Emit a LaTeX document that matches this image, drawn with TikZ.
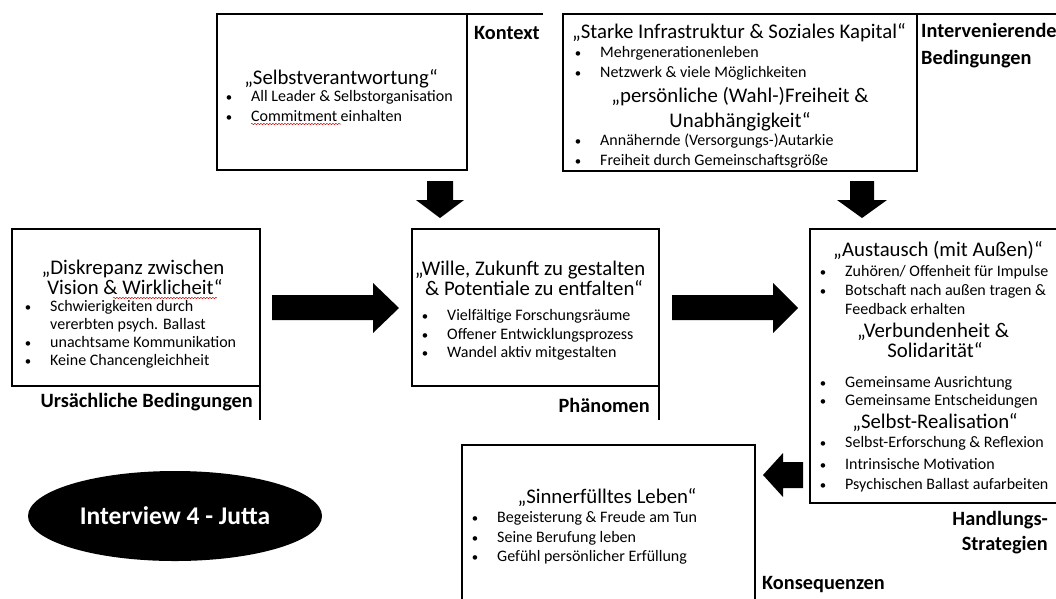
\documentclass[tikz,border=0pt]{standalone}
\usepackage{fontspec}
\setmainfont{Carlito}
\usetikzlibrary{shapes.geometric,decorations.pathmorphing}
\begin{document}
\begin{tikzpicture}[x=1pt,y=-1pt,
  box/.style={draw, line width=2.6pt, anchor=north west, inner sep=0pt, outer sep=0pt},
  ttl/.style={font=\fontsize{20.8}{23}\selectfont, inner sep=0pt, anchor=base},
  itm/.style={font=\fontsize{16}{19}\selectfont, inner sep=0pt, anchor=base west},
  lbl/.style={font=\fontsize{20.3}{24}\selectfont\bfseries, inner sep=0pt},
  frame/.style={line width=2.2pt},
  blk/.style={fill=black},
  squig/.style={red!80!black, line width=0.5pt, decorate, decoration={snake, amplitude=0.6pt, segment length=3pt}}]
\useasboundingbox (0,0) rectangle (1056,598);
\fill[white] (0,0) rectangle (1056,598);
\newcommand\bul[1]{\makebox[0pt][r]{\scalebox{0.8}{\textbullet}\hspace{19pt}}#1}

% ---------- Kontext ----------
\node[box, minimum width=250pt, minimum height=156pt] (ctx) at (217,14) {};
\draw[frame] (ctx.north east) -- (543,14);
\node[lbl, anchor=base west] (ctxl) at (474,39) {Kontext};
\node[ttl] (ctxt) at (341,84) {„Selbstverantwortung“};
\node[itm] (ctx1) at (251,101) {\bul{All Leader \& Selbstorganisation}};
\node[itm] (ctx2) at (251,121) {\bul{Commitment einhalten}};
\draw[squig] (251,124) -- (341,124);

% ---------- Intervenierende Bedingungen ----------
\node[box, minimum width=354pt, minimum height=157pt] (int) at (563,14) {};
\draw[frame] (int.north east) -- (1060,14);
\node[lbl, anchor=base west] (intl1) at (921,37) {Intervenierende};
\node[lbl, anchor=base west] (intl2) at (921,64) {Bedingungen};
\node[ttl] (intt1) at (739,38) {„Starke Infrastruktur \& Soziales Kapital“};
\node[itm] (int1) at (600,57) {\bul{Mehrgenerationenleben}};
\node[itm] (int2) at (600,77) {\bul{Netzwerk \& viele Möglichkeiten}};
\node[ttl] (intt2) at (740,102) {„persönliche (Wahl-)Freiheit \&};
\node[ttl] (intt3) at (740,127) {Unabhängigkeit“};
\node[itm] (int3) at (600,145) {\bul{Annähernde (Versorgungs-)Autarkie}};
\node[itm] (int4) at (600,165) {\bul{Freiheit durch Gemeinschaftsgröße}};

% ---------- Ursächliche Bedingungen ----------
\node[box, minimum width=248pt, minimum height=157pt] (urs) at (12,229) {};
\draw[frame] (urs.south east) -- (260,420);
\node[lbl, anchor=base east] (ursl) at (253,407) {Ursächliche Bedingungen};
\node[ttl] (urst1) at (133,274) {„Diskrepanz zwischen};
\node[ttl] (urst2) at (135,294) {Vision \& Wirklicheit“};
\draw[squig] (113,298) -- (217,298);
\node[itm] (urs1) at (50,311) {\bul{Schwierigkeiten durch}};
\node[itm] (urs1b) at (50,329) {vererbten psych. Ballast};
\node[itm] (urs2) at (50,347) {\bul{unachtsame Kommunikation}};
\node[itm] (urs3) at (50,365) {\bul{Keine Chancengleichheit}};

% ---------- Phänomen ----------
\node[box, minimum width=247pt, minimum height=157pt] (phn) at (412,229) {};
\draw[frame] (phn.south east) -- (659,420);
\node[lbl, anchor=base east] (phnl) at (650,412) {Phänomen};
\node[ttl] (phnt1) at (530,275) {„Wille, Zukunft zu gestalten};
\node[ttl] (phnt2) at (534,295) {\& Potentiale zu entfalten“};
\node[itm] (phn1) at (447,320) {\bul{Vielfältige Forschungsräume}};
\node[itm] (phn2) at (447,339) {\bul{Offener Entwicklungsprozess}};
\node[itm] (phn3) at (447,357) {\bul{Wandel aktiv mitgestalten}};

% ---------- Handlungsstrategien ----------
\node[box, minimum width=260pt, minimum height=274pt] (hnd) at (810,229) {};
\node[lbl, anchor=base east] (hndl1) at (1048,525) {Handlungs-};
\node[lbl, anchor=base east] (hndl2) at (1048,550) {Strategien};
\node[ttl] (hndt1) at (938,256) {„Austausch (mit Außen)“};
\node[itm] (hnd1) at (845,276) {\bul{Zuhören/ Offenheit für Impulse}};
\node[itm] (hnd2) at (845,295) {\bul{Botschaft nach außen tragen \&}};
\node[itm] (hnd2b) at (845,314) {Feedback erhalten};
\node[ttl] (hndt2) at (933,337) {„Verbundenheit \&};
\node[ttl] (hndt3) at (935,357) {Solidarität“};
\node[itm] (hnd3) at (845,387) {\bul{Gemeinsame Ausrichtung}};
\node[itm] (hnd4) at (845,405) {\bul{Gemeinsame Entscheidungen}};
\node[ttl] (hndt4) at (935,428) {„Selbst-Realisation“};
\node[itm] (hnd5) at (845,447) {\bul{Selbst-Erforschung \& Reflexion}};
\node[itm] (hnd6) at (845,469) {\bul{Intrinsische Motivation}};
\node[itm] (hnd7) at (845,489) {\bul{Psychischen Ballast aufarbeiten}};

% ---------- Konsequenzen ----------
\node[box, minimum width=293pt, minimum height=175pt] (kon) at (462,445) {};
\node[lbl, anchor=base west] (konl) at (762,589) {Konsequenzen};
\node[ttl] (kont) at (607,503) {„Sinnerfülltes Leben“};
\node[itm] (kon1) at (497,522) {\bul{Begeisterung \& Freude am Tun}};
\node[itm] (kon2) at (497,542) {\bul{Seine Berufung leben}};
\node[itm] (kon3) at (497,561) {\bul{Gefühl persönlicher Erfüllung}};

% ---------- Ellipse ----------
\node[ellipse, fill=black, minimum width=294pt, minimum height=90pt, inner sep=0pt,
      text=white, font=\fontsize{25.5}{30}\selectfont\bfseries] (iv) at (175,516) {Interview 4 - Jutta};

% ---------- Block arrows ----------
\fill[blk] (427,181) -- (453,181) -- (453,200) -- (464,200) -- (440,218) -- (416,200) -- (427,200) -- cycle;
\fill[blk] (850,181) -- (874,181) -- (874,200) -- (887,200) -- (862,218) -- (837,200) -- (850,200) -- cycle;
\fill[blk] (272,295) -- (373,295) -- (373,283) -- (399,308) -- (373,333) -- (373,320) -- (272,320) -- cycle;
\fill[blk] (672,295) -- (773,295) -- (773,283) -- (798,308) -- (773,333) -- (773,320) -- (672,320) -- cycle;
\fill[blk] (803,462) -- (783,462) -- (783,453) -- (763,475) -- (783,497) -- (783,488) -- (803,488) -- cycle;
\end{tikzpicture}
\end{document}
